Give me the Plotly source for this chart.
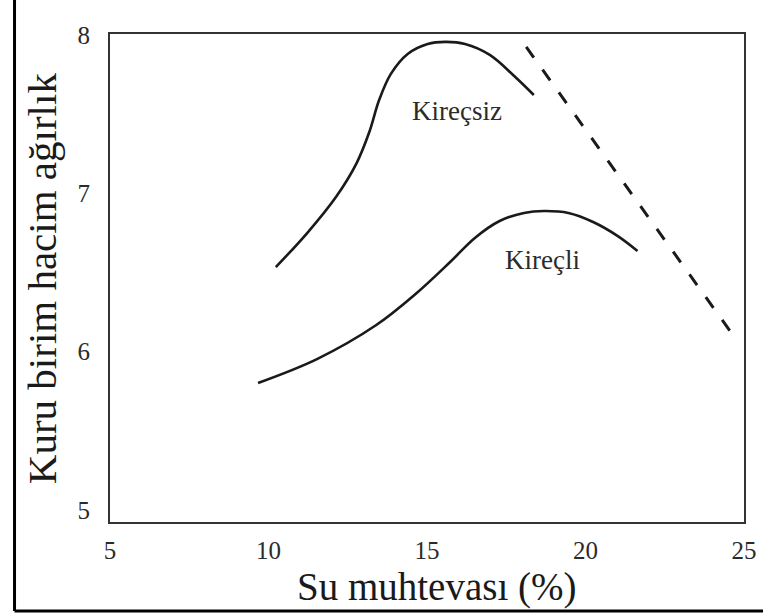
import plotly.graph_objects as go

# Compaction curves: dry unit weight vs. water content
x_kirecsiz = [10.23, 11.22, 12.15, 12.78, 13.18, 13.49, 13.86, 14.39, 15.02,
              15.58, 16.20, 16.98, 17.75, 18.37]
y_kirecsiz = [6.534, 6.749, 6.983, 7.191, 7.387, 7.589, 7.754, 7.880, 7.943,
              7.956, 7.943, 7.874, 7.741, 7.621]

x_kirecli = [9.67, 11.53, 13.40, 14.64, 15.73, 16.51, 17.29, 18.06, 18.69,
             19.46, 20.24, 21.02, 21.64]
y_kirecli = [5.802, 5.953, 6.168, 6.364, 6.566, 6.718, 6.825, 6.876, 6.888,
             6.876, 6.819, 6.730, 6.636]

# Limit line (dashed)
x_limit = [18.13, 24.72]
y_limit = [7.924, 6.086]

x_ticks = [5, 10, 15, 20, 25]
y_ticks = [5, 6, 7, 8]

labels = {"Kireçsiz": (15.95, 7.52), "Kireçli": (18.65, 6.58)}

FONT = "Liberation Serif, Times New Roman, serif"
INK = "#1a1a1a"
TEXT = "#2b2b2b"

fig = go.Figure()
for xs, ys in [(x_kirecsiz, y_kirecsiz), (x_kirecli, y_kirecli)]:
    fig.add_trace(go.Scatter(x=xs, y=ys, mode="lines",
                             line=dict(color=INK, width=2.6, shape="spline",
                                       smoothing=1.0),
                             showlegend=False))
fig.add_trace(go.Scatter(x=x_limit, y=y_limit, mode="lines",
                         line=dict(color=INK, width=3, dash="13px,15px"),
                         showlegend=False))

for text, (lx, ly) in labels.items():
    fig.add_annotation(x=lx, y=ly, text=text, showarrow=False,
                       font=dict(family=FONT, size=27, color=TEXT))

# axis titles
fig.add_annotation(xref="paper", yref="paper", x=0.515, y=-0.134,
                   text="Su muhtevası (%)", showarrow=False,
                   xanchor="center", yanchor="middle",
                   font=dict(family=FONT, size=39, color=INK))
fig.add_annotation(xref="paper", yref="paper", x=-0.107, y=0.5,
                   text="Kuru birim hacim ağırlık", showarrow=False,
                   textangle=-90, xanchor="center", yanchor="middle",
                   font=dict(family=FONT, size=41, color=INK))

# outer frame (left and bottom edges)
fig.add_shape(type="line", xref="paper", yref="paper",
              x0=-0.1506, x1=-0.1506, y0=-0.1824, y1=1.08,
              line=dict(color="black", width=3))
fig.add_shape(type="line", xref="paper", yref="paper",
              x0=-0.1506, x1=1.03, y0=-0.1824, y1=-0.1824,
              line=dict(color="black", width=3))

axis_common = dict(showgrid=False, zeroline=False, showline=True, mirror=True,
                   linecolor="#333333", linewidth=2, ticks="",
                   tickfont=dict(family=FONT, size=25, color=TEXT))

fig.update_xaxes(range=[5, 25], tickvals=x_ticks, ticklabelstandoff=5,
                 **axis_common)
fig.update_yaxes(range=[4.924, 8.006], tickvals=y_ticks, ticklabelstandoff=13,
                 **axis_common)

fig.update_layout(width=769, height=616,
                  margin=dict(l=110, r=15, t=34, b=94),
                  plot_bgcolor="white", paper_bgcolor="white")

fig.write_html("out.html")
